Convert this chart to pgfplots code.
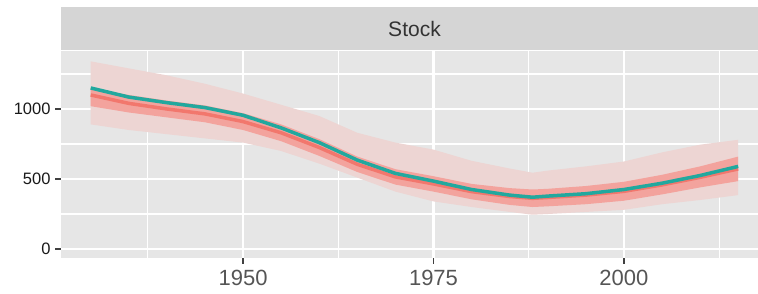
\documentclass[border=0pt]{standalone}
\usepackage{fontspec}
\setmainfont{Liberation Sans}
\usepackage{pgfplots}
\usepgfplotslibrary{fillbetween}
\usepackage{pgfplotstable}
\pgfplotsset{compat=1.18}
\definecolor{panelgray}{HTML}{E6E6E6}
\definecolor{stripgray}{HTML}{D5D5D5}
\definecolor{outerband}{HTML}{EDD5D3}
\definecolor{innerband}{HTML}{F3A39D}
\definecolor{redline}{HTML}{F2776D}
\definecolor{tealline}{HTML}{22A89E}
\definecolor{ticklab}{HTML}{555555}
\pgfplotstableread{
year red teal inlo inhi outlo outhi
1930 1100 1150 1020 1150 890 1340
1935 1040 1085 975 1100 850 1290
1940 1000 1045 940 1060 820 1240
1945 965 1010 905 1025 790 1180
1950 910 955 850 970 760 1110
1955 830 865 770 890 700 1030
1960 725 760 665 785 610 950
1965 605 635 550 660 510 830
1970 515 540 460 570 410 760
1975 465 485 410 520 340 710
1980 410 425 355 465 300 630
1985 375 385 315 435 265 575
1988 362 370 300 425 245 545
1990 368 378 305 430 250 560
1995 385 395 320 450 265 590
2000 412 425 345 480 280 625
2005 458 470 390 530 320 690
2010 512 525 440 590 350 745
2015 572 590 485 660 385 780
}\datatable
\begin{document}
\begin{tikzpicture}
\begin{axis}[
  scale only axis,
  width=697pt, height=207pt,
  xmin=1926.1, xmax=2017.6,
  ymin=-64, ymax=1414,
  axis background/.style={fill=panelgray},
  axis line style={draw=none},
  axis x line*=bottom, axis y line*=left,
  xtick={1950,1975,2000},
  ytick={0,500,1000},
  minor xtick={1937.5,1962.5,1987.5,2012.5},
  minor ytick={250,750,1250},
  grid=both,
  major grid style={white, line width=2.4pt},
  minor grid style={white, line width=1.2pt},
  tick align=outside,
  major tick length=6pt,
  minor tick length=0pt,
  tick style={color=black!75, line width=1.2pt},
  /pgf/number format/assume math mode=true,
  /pgf/number format/set thousands separator={},
  xticklabel style={font=\fontsize{22}{22}\selectfont, text=ticklab, yshift=-3pt},
  yticklabel style={font=\fontsize{16.5}{16.5}\selectfont, text=black!90, xshift=-1pt},
  clip=true,
]
\addplot[draw=none, name path=olo] table[x=year, y=outlo] {\datatable};
\addplot[draw=none, name path=ohi] table[x=year, y=outhi] {\datatable};
\addplot[outerband] fill between[of=olo and ohi];
\addplot[draw=none, name path=ilo] table[x=year, y=inlo] {\datatable};
\addplot[draw=none, name path=ihi] table[x=year, y=inhi] {\datatable};
\addplot[innerband] fill between[of=ilo and ihi];
\addplot[redline, line width=3.5pt] table[x=year, y=red] {\datatable};
\addplot[tealline, line width=3.5pt] table[x=year, y=teal] {\datatable};
\end{axis}
\fill[stripgray] ([yshift=1pt]current axis.north west) rectangle ([yshift=44pt]current axis.north east);
\node[font=\fontsize{21}{21}\selectfont, text=black!80] at ([yshift=22.5pt, xshift=5pt]current axis.north) {Stock};
\pgfresetboundingbox
\path ([xshift=-61pt,yshift=-36pt]current axis.south west) rectangle ([yshift=51pt]current axis.north east);
\end{tikzpicture}
\end{document}
